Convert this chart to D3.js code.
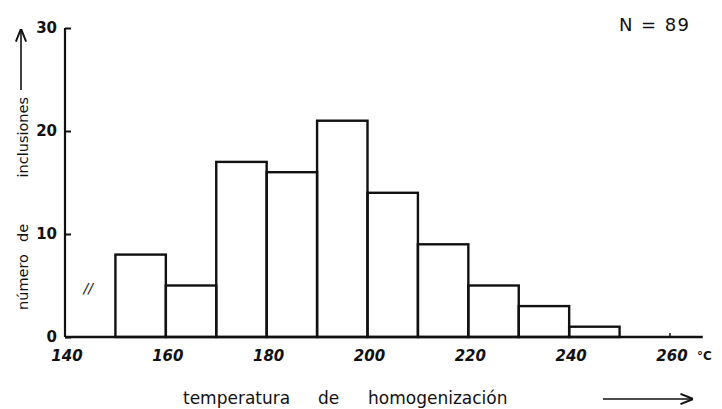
<!DOCTYPE html>
<html>
<head>
<meta charset="utf-8">
<script src="https://cdn.jsdelivr.net/npm/d3@7"></script>
<style>
  body { margin: 0; background: #fff; }
  svg text { font-family: "DejaVu Sans", sans-serif; fill: #111; }
  .tick-label { font-size: 15px; font-style: italic; }
</style>
</head>
<body>
<div id="chart"></div>
<script>
// class bins (lower edge, deg C) and counts
const binStart = [150, 160, 170, 180, 190, 200, 210, 220, 230, 240];
const counts = [8, 5, 17, 16, 21, 14, 9, 5, 3, 1];
const binWidth = 10;
const xTicks = [140, 160, 180, 200, 220, 240, 260];
const yTicks = [0, 10, 20, 30];

const margin = { top: 28, right: 52, bottom: 72, left: 65 };
const width = 722, height = 409;
const innerW = 670 - margin.left;
const innerH = 337 - margin.top;

const svg = d3.select('#chart').append('svg')
    .attr('width', width).attr('height', height);
const g = svg.append('g').attr('transform', 'translate(' + margin.left + ',' + margin.top + ')');

const x = d3.scaleLinear().domain([140, 260]).range([0, innerW]);
const y = d3.scaleLinear().domain([0, 30]).range([innerH, 0]);

// bars
g.selectAll('rect.bar').data(binStart).enter().append('rect')
    .attr('class', 'bar')
    .attr('x', d => x(d))
    .attr('y', (d, i) => y(counts[i]))
    .attr('width', d => x(d + binWidth) - x(d))
    .attr('height', (d, i) => innerH - y(counts[i]))
    .attr('fill', 'none')
    .attr('stroke', '#111')
    .attr('stroke-width', 2.4);

// x axis line
g.append('line')
    .attr('x1', 0).attr('x2', x(266.5))
    .attr('y1', innerH).attr('y2', innerH)
    .attr('stroke', '#111').attr('stroke-width', 2.4);

// y axis
const yAxis = d3.axisRight(y).tickValues(yTicks).tickSize(6).tickFormat('');
const ya = g.append('g').call(yAxis);
ya.select('.domain').attr('stroke', '#111').attr('stroke-width', 2.2).attr('d', 'M0,' + innerH + 'V0');
ya.selectAll('.tick line').attr('stroke', '#111').attr('stroke-width', 2);

g.selectAll('text.ylab').data(yTicks).enter().append('text')
    .attr('class', 'tick-label')
    .attr('x', -8).attr('y', d => y(d) + 5)
    .attr('text-anchor', 'end')
    .style('font-style', 'normal')
    .style('font-weight', 'bold')
    .text(d => d);

// x tick labels
g.selectAll('text.xlab').data(xTicks).enter().append('text')
    .attr('class', 'tick-label')
    .attr('x', d => x(d) + 2)
    .attr('y', innerH + 24)
    .attr('text-anchor', 'middle')
    .style('font-weight', 'bold')
    .text(d => d);

// small mark at 260
g.append('line')
    .attr('x1', x(260)).attr('x2', x(260))
    .attr('y1', innerH - 4).attr('y2', innerH - 1)
    .attr('stroke', '#111').attr('stroke-width', 1.5);

g.append('text')
    .attr('x', x(260) + 27).attr('y', innerH + 23)
    .style('font-size', '12px').style('font-weight', 'bold')
    .text('°C');

// axis break mark
g.append('text')
    .attr('x', x(144.6)).attr('y', y(4.3))
    .attr('text-anchor', 'middle')
    .style('font-size', '14px').style('font-style', 'italic')
    .text('//');

// N label
svg.append('text')
    .attr('x', 619).attr('y', 31)
    .style('font-size', '18px')
    .attr('textLength', 70).attr('lengthAdjust', 'spacing')
    .text('N = 89');

// x axis title, words placed one by one
const xTitle = [['temperatura', 183], ['de', 318], ['homogenización', 368]];
svg.selectAll('text.xtitle').data(xTitle).enter().append('text')
    .attr('class', 'xtitle')
    .attr('x', d => d[1]).attr('y', 404)
    .style('font-size', '17px')
    .text(d => d[0]);

const defs = svg.append('defs');
defs.append('marker').attr('id', 'arr')
    .attr('viewBox', '0 0 10 10').attr('refX', 9).attr('refY', 5)
    .attr('markerWidth', 8).attr('markerHeight', 8).attr('orient', 'auto-start-reverse')
    .append('path').attr('d', 'M0,1L10,5L0,9').attr('fill', 'none').attr('stroke', '#111').attr('stroke-width', 1.5);

svg.append('line')
    .attr('x1', 603).attr('x2', 692).attr('y1', 399).attr('y2', 399)
    .attr('stroke', '#111').attr('stroke-width', 1.6)
    .attr('marker-end', 'url(#arr)');

// y axis title (rotated), words placed along the axis
const yTitle = [['número', 0, 'start'], ['de', 77, 'middle'], ['inclusiones', 213, 'end']];
const yt = svg.append('g').attr('transform', 'translate(28,310) rotate(-90)');
yt.selectAll('text').data(yTitle).enter().append('text')
    .attr('x', d => d[1]).attr('y', 0)
    .attr('text-anchor', d => d[2])
    .style('font-size', '14.5px')
    .text(d => d[0]);

svg.append('line')
    .attr('x1', 21).attr('x2', 21).attr('y1', 90).attr('y2', 30)
    .attr('stroke', '#111').attr('stroke-width', 1.6)
    .attr('marker-end', 'url(#arr)');
</script>
</body>
</html>
